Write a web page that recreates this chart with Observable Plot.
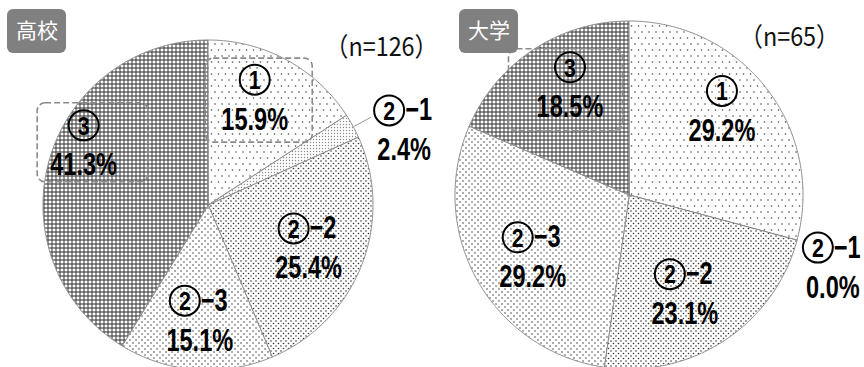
<!DOCTYPE html>
<html>
<head>
<meta charset="utf-8">
<script src="https://cdn.jsdelivr.net/npm/d3@7"></script>
<script src="https://cdn.jsdelivr.net/npm/@observablehq/plot@0.6"></script>
<style>
  html, body { margin: 0; padding: 0; background: #fff; overflow: hidden; }
  #chart svg { display: block; overflow: hidden; }
</style>
</head>
<body>
<div id="chart"></div>
<script>
// ---- data ----
const schools = ["高校", "大学"];
const categories = ["①", "②−1", "②−2", "②−3", "③"];
const shareHighSchool = [15.9, 2.4, 25.4, 15.1, 41.3];
const shareUniversity = [29.2, 0.0, 23.1, 29.2, 18.5];
const sampleSizes = [126, 65];

// ---- layout ----
const W = 864, H = 367;
const panels = [
  {cx: 208, cy: 205, r: 165, tag: [36.5, 31], nPos: [381, 47]},
  {cx: 629, cy: 195, r: 174, tag: [488.5, 31], nPos: [789, 37]}
];
// label placement: fraction of radius, angular nudge (degrees), optional dashed box, optional leader
const placement = [
  [
    {rf: 0.70, da: -5, box: [-49, 58, -41, 43]},
    {rf: 1.27, da: 7.5, leader: true},
    {rf: 0.66, da: 1.7},
    {rf: 0.70, da: 0},
    {rf: 0.84, da: 10, box: [-46, 65, -42, 37]}
  ],
  [
    {rf: 0.72, da: -5},
    {rf: 1.24, da: 4.4},
    {rf: 0.65, da: 4},
    {rf: 0.66, da: -3.4},
    {rf: 0.71, da: 4.5, box: [-61, 53, -38, 44]}
  ]
];
const patternIds = ["pat-a", "pat-b", "pat-c", "pat-d", "pat-e"];
const ringR = 15;     // radius of the drawn circle around the category number
const lineGap = 20;   // half distance between the name line and the value line

const shares = [shareHighSchool, shareUniversity];
const slicePts = [], labels = [], boxes = [], leaders = [], tags = [], nLabels = [];
const rad = d => d * Math.PI / 180;

schools.forEach((school, s) => {
  const p = panels[s];
  const vals = shares[s];
  const total = d3.sum(vals);
  let acc = 0;
  vals.forEach((v, i) => {
    const a0 = acc / total * 2 * Math.PI;
    acc += v;
    const a1 = acc / total * 2 * Math.PI;
    const n = Math.max(2, Math.ceil((a1 - a0) / (Math.PI / 360)));
    for (let k = 0; k <= n; k++) {
      const a = a0 + (a1 - a0) * k / n;
      slicePts.push({id: school + i, cat: categories[i],
        x1: p.cx + p.r * Math.sin(a), y1: p.cy - p.r * Math.cos(a), x2: p.cx, y2: p.cy});
    }
    const pl = placement[s][i];
    const mid = (a0 + a1) / 2;
    const am = mid + rad(pl.da);
    const lx = p.cx + p.r * pl.rf * Math.sin(am);
    const ly = p.cy - p.r * pl.rf * Math.cos(am);
    // "②−1" -> circled number 2 followed by "−1"
    const cat = categories[i];
    const num = String(cat.codePointAt(0) - 0x245F);
    const suffix = cat.slice(1);
    labels.push({
      num, suffix, value: `${v.toFixed(1)}%`, x: lx, y: ly,
      ringX: suffix ? lx - ringR : lx, nameY: ly - lineGap, valueY: ly + lineGap
    });
    if (pl.box) boxes.push({x1: lx + pl.box[0], x2: lx + pl.box[1], y1: ly + pl.box[2], y2: ly + pl.box[3]});
    if (pl.leader) {
      leaders.push({
        x1: p.cx + p.r * Math.sin(mid), y1: p.cy - p.r * Math.cos(mid),
        x2: p.cx + p.r * 1.12 * Math.sin(mid), y2: p.cy - p.r * 1.12 * Math.cos(mid)
      });
    }
  });
  tags.push({text: school, x: p.tag[0], y: p.tag[1]});
  nLabels.push({text: `（n=${sampleSizes[s]}）`, x: p.nPos[0], y: p.nPos[1]});
});

const cjk = "'Noto Sans CJK JP', sans-serif";
const latin = "'Liberation Sans', Arimo, Arial, sans-serif";
const suffixed = labels.filter(d => d.suffix);

const svg = Plot.plot({
  width: W, height: H,
  marginTop: 0, marginRight: 0, marginBottom: 0, marginLeft: 0,
  x: {domain: [0, W], range: [0, W], axis: null},
  y: {domain: [0, H], range: [0, H], axis: null},
  color: {type: "ordinal", domain: categories, range: patternIds.map(id => `url(#${id})`)},
  marks: [
    Plot.area(slicePts, {x1: "x1", y1: "y1", x2: "x2", y2: "y2", z: "id", fill: "cat",
      stroke: "#8c8c8c", strokeWidth: 1}),
    Plot.rect(boxes, {x1: "x1", x2: "x2", y1: "y1", y2: "y2", rx: 8, fill: "none",
      stroke: "#8a8a8a", strokeWidth: 1.6, strokeDasharray: "6,3"}),
    Plot.link(leaders, {x1: "x1", y1: "y1", x2: "x2", y2: "y2", stroke: "#999", strokeWidth: 1}),
    Plot.dot(labels, {x: "ringX", y: "nameY", r: ringR, fill: "none", stroke: "#000", strokeWidth: 2}),
    // text groups below are narrowed in this order: numbers, suffixes, values
    Plot.text(labels, {x: "ringX", y: "nameY", text: "num", dy: 1, fontSize: 26, fontWeight: "bold",
      fontFamily: latin, fill: "#000"}),
    Plot.text(suffixed, {x: "x", y: "nameY", text: "suffix", dx: 1, textAnchor: "start", fontSize: 31,
      fontWeight: "bold", fontFamily: latin, fill: "#000"}),
    Plot.text(labels, {x: "x", y: "valueY", text: "value", fontSize: 31, fontWeight: "bold",
      fontFamily: latin, fill: "#000"}),
    Plot.rect(tags, {x1: d => d.x - 29.5, x2: d => d.x + 29.5, y1: d => d.y - 22, y2: d => d.y + 22,
      rx: 6, fill: "#808080"}),
    Plot.text(tags, {x: "x", y: "y", text: "text", fill: "#fff", fontSize: 21, fontFamily: cjk}),
    Plot.text(nLabels, {x: "x", y: "y", text: "text", fill: "#111", fontSize: 26, fontFamily: cjk})
  ]
});

// narrow the label lettering horizontally (condensed gothic look)
const textGroups = d3.select(svg).selectAll("g[aria-label='text']").nodes();
const squeezeBy = [0.82, 0.76, 0.76, 1, 0.9];
textGroups.forEach((g, gi) => {
  const sx = squeezeBy[gi];
  if (sx === 1) return;
  d3.select(g).selectAll("text").each(function () {
    const el = d3.select(this);
    const tr = el.attr("transform");
    if (tr) el.attr("transform", `${tr} scale(${sx},1)`);
    else {
      const x = +el.attr("x") || 0, y = +el.attr("y") || 0;
      el.attr("x", null).attr("y", null).attr("transform", `translate(${x},${y}) scale(${sx},1)`);
    }
  });
});

// fill patterns for the slices
const defs = d3.select(svg).insert("defs", ":first-child");
function pattern(id, w, h, draw) {
  const pt = defs.append("pattern").attr("id", id).attr("patternUnits", "userSpaceOnUse")
    .attr("width", w).attr("height", h);
  pt.append("rect").attr("width", w).attr("height", h).attr("fill", "#fff");
  draw(pt);
}
const dots = (pt, pts, r, c) => pts.forEach(([x, y]) =>
  pt.append("circle").attr("cx", x).attr("cy", y).attr("r", r).attr("fill", c));
pattern("pat-a", 7, 12, pt => dots(pt, [[1.5, 2], [5, 8]], 0.8, "#444"));
pattern("pat-b", 3, 3, pt => dots(pt, [[1.5, 1.5]], 0.7, "#8a8a8a"));
pattern("pat-c", 5, 5, pt => dots(pt, [[1, 1], [3.5, 3.5]], 0.8, "#333"));
pattern("pat-d", 6, 6, pt => dots(pt, [[1, 1], [4, 4]], 0.75, "#333"));
pattern("pat-e", 4, 4, pt => {
  pt.select("rect").attr("fill", "#666");
  pt.append("polygon").attr("points", "2,0.15 3.85,2 2,3.85 0.15,2").attr("fill", "#fff");
});

document.getElementById("chart").append(svg);
</script>
</body>
</html>
